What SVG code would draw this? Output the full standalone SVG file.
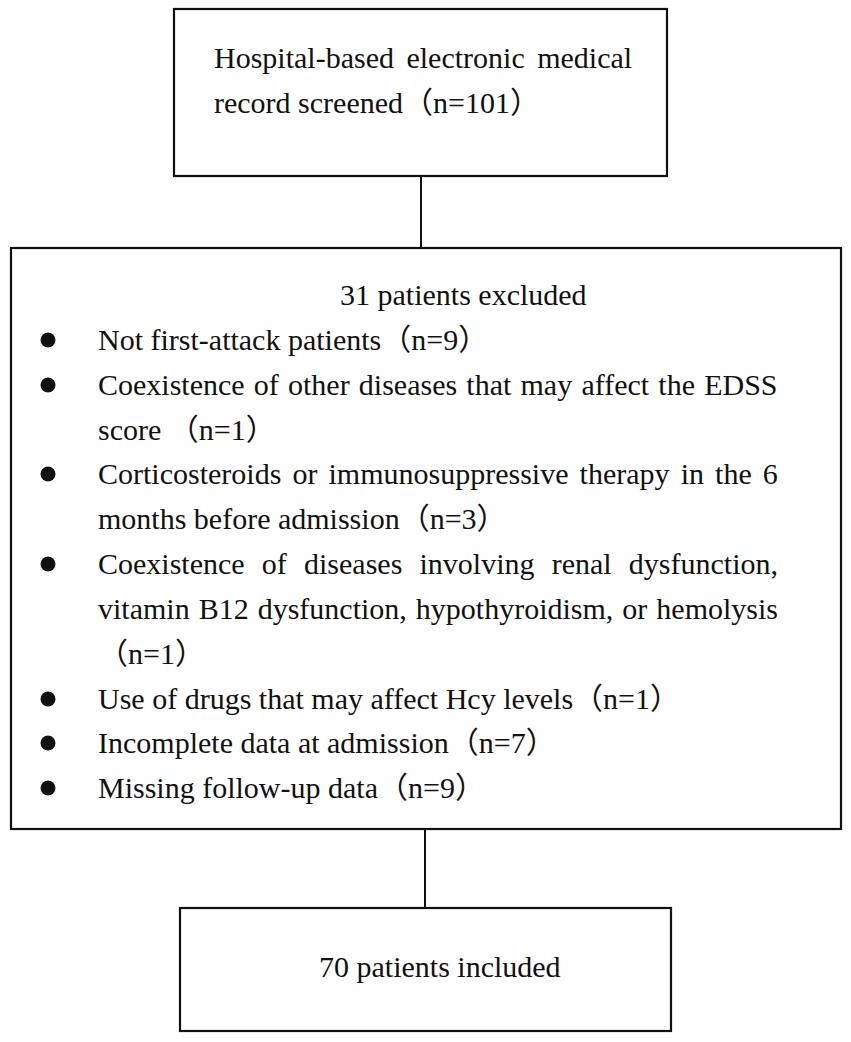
<svg xmlns="http://www.w3.org/2000/svg" width="851" height="1042" viewBox="0 0 851 1042">
<style>
.box{fill:#fff;stroke:#111;stroke-width:2.2}
.t{font-family:"Liberation Serif","Noto Sans CJK SC",serif;font-size:30px;fill:#111}
.conn{stroke:#111;stroke-width:2;fill:none}
.b{fill:#111}
</style>
<rect width="851" height="1042" fill="#fff"/>
<g id="connectors">
<line class="conn" x1="421" y1="176" x2="421" y2="248"/>
<line class="conn" x1="425" y1="829" x2="425" y2="908"/>
</g>
<g id="screened">
<rect class="box" x="174" y="9" width="493" height="167"/>
<text class="t" x="214" y="68" word-spacing="5">Hospital-based electronic medical</text>
<text class="t" x="214" y="113">record screened（n=101）</text>
</g>
<g id="excluded">
<rect class="box" x="11" y="248" width="830" height="581"/>
<text class="t" x="340" y="305">31 patients excluded</text>
<circle class="b" cx="48" cy="340" r="7.5"/>
<text class="t" x="98" y="350">Not first-attack patients（n=9）</text>
<circle class="b" cx="48" cy="385" r="7.5"/>
<text class="t" x="98" y="395" word-spacing="1.7">Coexistence of other diseases that may affect the EDSS</text>
<text class="t" x="98" y="440">score （n=1）</text>
<circle class="b" cx="48" cy="474" r="7.5"/>
<text class="t" x="98" y="484" word-spacing="3.6">Corticosteroids or immunosuppressive therapy in the 6</text>
<text class="t" x="98" y="529">months before admission（n=3）</text>
<circle class="b" cx="48" cy="564" r="7.5"/>
<text class="t" x="98" y="574" word-spacing="9.7">Coexistence of diseases involving renal dysfunction,</text>
<text class="t" x="98" y="619" word-spacing="1.5">vitamin B12 dysfunction, hypothyroidism, or hemolysis</text>
<text class="t" x="98" y="664">（n=1）</text>
<circle class="b" cx="48" cy="699" r="7.5"/>
<text class="t" x="98" y="709">Use of drugs that may affect Hcy levels（n=1）</text>
<circle class="b" cx="48" cy="743" r="7.5"/>
<text class="t" x="98" y="753">Incomplete data at admission（n=7）</text>
<circle class="b" cx="48" cy="788" r="7.5"/>
<text class="t" x="98" y="798">Missing follow-up data（n=9）</text>
</g>
<g id="included">
<rect class="box" x="180" y="908" width="491" height="123"/>
<text class="t" x="319" y="977">70 patients included</text>
</g>
</svg>
